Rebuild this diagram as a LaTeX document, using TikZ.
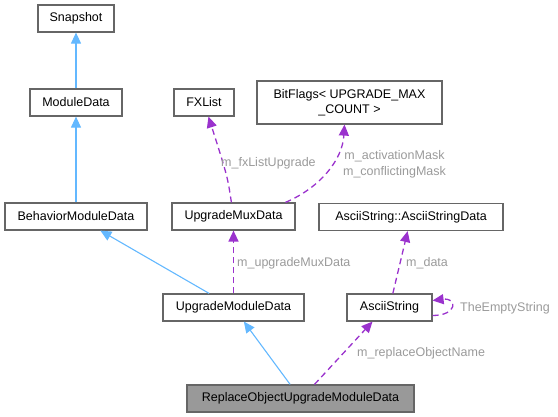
\documentclass[tikz,border=0pt]{standalone}
\usepackage{fontspec}
\setmainfont{Liberation Sans}
\usetikzlibrary{arrows.meta,positioning}

\definecolor{inhblue}{HTML}{63B8FF}
\definecolor{usepurple}{HTML}{9A32CD}
\definecolor{lblgray}{HTML}{9A9A9A}
\definecolor{boxgray}{HTML}{666666}

\begin{document}
\begin{tikzpicture}[
    x=1pt, y=-1pt,
    box/.style={rectangle, draw=boxgray, line width=1.2pt, fill=white, minimum height=27pt, inner sep=0pt, align=center, font=\fontsize{12.5}{15}\selectfont},
    inherit/.style={draw=inhblue, line width=1.1pt, -{Triangle[length=11pt,width=10pt]}},
    member/.style={draw=usepurple, line width=1.3pt, dash pattern=on 6pt off 4pt, -{Triangle[length=11pt,width=10pt]}},
    lbl/.style={font=\fontsize{12.5}{16}\selectfont, text=lblgray, inner sep=0pt, align=center}
]
\useasboundingbox (0,0) rectangle (558,417);

\node[box, minimum width=76pt] (snapshot) at (76,18.5) {Snapshot};
\node[box, minimum width=92pt] (moduledata) at (76,102.5) {ModuleData};
\node[box, minimum width=142pt] (behavior) at (76,216.5) {BehaviorModuleData};
\node[box, minimum width=60pt] (fxlist) at (204,102.5) {FXList};
\node[box, minimum width=185pt, minimum height=43pt] (bitflags) at (349.5,102.5) {BitFlags< UPGRADE\_MAX\\\_COUNT >};
\node[box, minimum width=123pt] (muxdata) at (233.5,216.5) {UpgradeMuxData};
\node[box, minimum width=184pt] (strdata) at (411,217) {AsciiString::AsciiStringData};
\node[box, minimum width=141pt] (upgmodule) at (233.5,307.5) {UpgradeModuleData};
\node[box, minimum width=85pt] (asciistr) at (389.5,307.5) {AsciiString};
\node[box, minimum width=227pt, fill=black!40] (replace) at (300.5,398.5) {ReplaceObjectUpgradeModuleData};

% inheritance
\draw[inherit] (moduledata) -- (snapshot);
\draw[inherit] (behavior) -- (moduledata);
\draw[inherit] (upgmodule) -- (behavior);
\draw[inherit] (replace) -- (upgmodule);

% members
\draw[member] (muxdata) .. controls +(-6,-40) .. (fxlist);
\draw[member] ([xshift=52pt]muxdata.north) .. controls +(35,-15) and +(-2,35) .. ([xshift=-5pt]bitflags.south);
\draw[member] (upgmodule) -- (muxdata);
\draw[member] (asciistr) -- (strdata);
\draw[member] ([xshift=14pt]replace.north) -- ([xshift=-17pt]asciistr.south);
\draw[member] ([yshift=-8pt]asciistr.east) .. controls +(25,0) and +(25,-3) .. ([yshift=7pt]asciistr.east);

\node[lbl, anchor=west] (lblfx) at (221,163) {m\_fxListUpgrade};
\node[lbl] (lblmask) at (394.5,164) {m\_activationMask\\m\_conflictingMask};
\node[lbl, anchor=west] (lblmux) at (237,263) {m\_upgradeMuxData};
\node[lbl, anchor=west] (lbldata) at (406,263) {m\_data};
\node[lbl, anchor=west] (lblempty) at (460,308) {TheEmptyString};
\node[lbl, anchor=west] (lblname) at (357,353) {m\_replaceObjectName};
\end{tikzpicture}
\end{document}
